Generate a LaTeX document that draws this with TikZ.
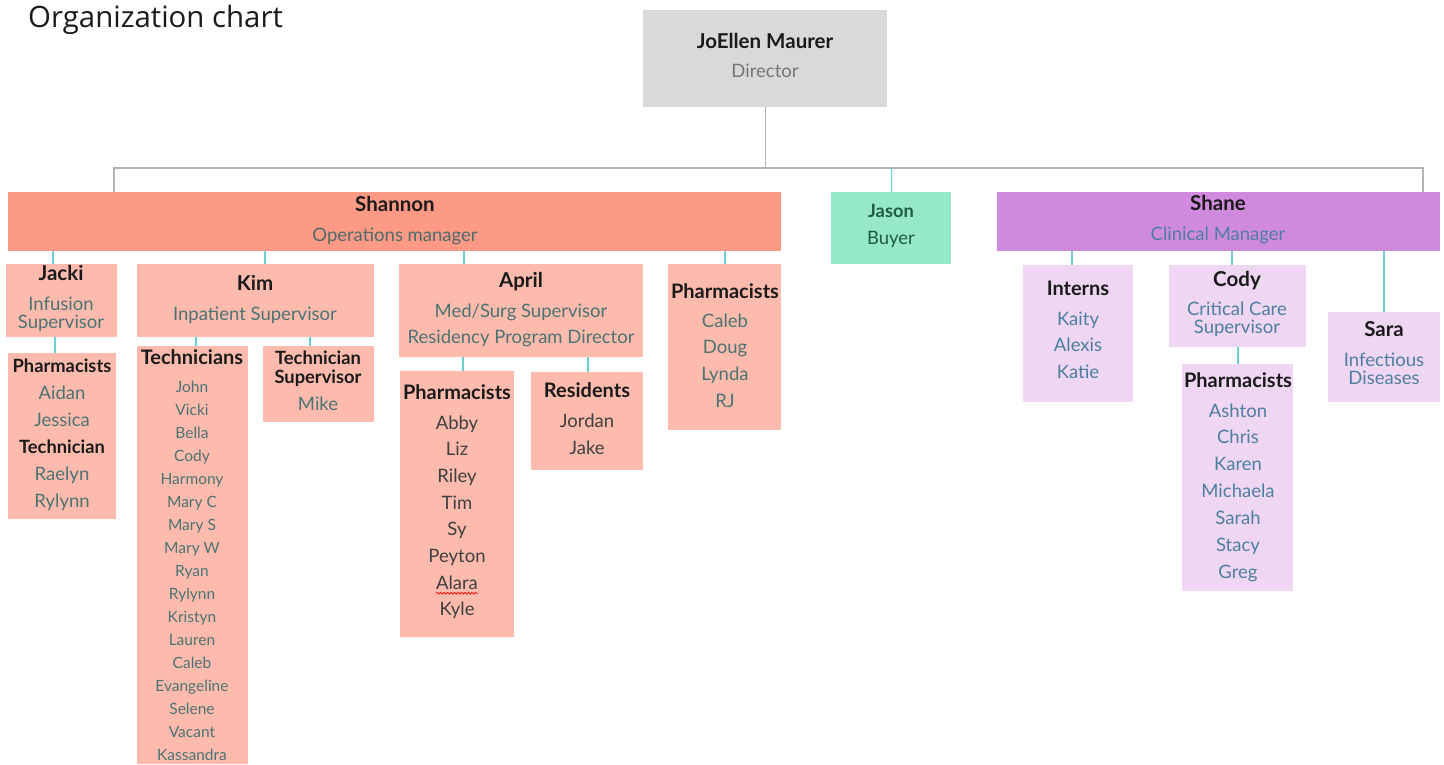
\documentclass[tikz,border=0pt]{standalone}
\usepackage{fontspec}
\setmainfont{Lato}
\newfontfamily\titlefont{Open Sans}
\usetikzlibrary{decorations.pathmorphing}
\definecolor{dirfill}{HTML}{D9D9D9}
\definecolor{salmon}{HTML}{FC9A85}
\definecolor{lsalmon}{HTML}{FDBBAE}
\definecolor{mint}{HTML}{95E9C8}
\definecolor{violet}{HTML}{CF8ADD}
\definecolor{lviolet}{HTML}{EFD6F3}
\definecolor{tealline}{HTML}{6CCFD6}
\definecolor{greyline}{HTML}{B4B4B4}
\definecolor{hdrc}{HTML}{1A1A1A}
\definecolor{greytxt}{HTML}{767676}
\definecolor{salmtxt}{HTML}{4C7372}
\definecolor{opstxt}{HTML}{506A6A}
\definecolor{darktxt}{HTML}{3F3F3F}
\definecolor{bluetxt}{HTML}{4E7FA0}
\definecolor{greentxt}{HTML}{1F5C43}
\tikzset{
  box/.style={draw=none, inner sep=0pt, anchor=north west},
  gl/.style={draw=greyline, line width=1.4pt},
  tl/.style={draw=tealline, line width=1.4pt},
  txt/.style={inner sep=0pt, anchor=mid, yshift=-4.5pt},
  hb/.style={txt, font=\fontsize{20.5}{24}\selectfont\bfseries, text=hdrc},
  hm/.style={txt, font=\fontsize{20}{24}\selectfont\bfseries, text=hdrc},
  hs/.style={txt, font=\fontsize{18.3}{21}\selectfont\bfseries, text=hdrc},
  sub/.style={txt, font=\fontsize{18.5}{22}\selectfont},
  nm/.style={txt, font=\fontsize{18.5}{22}\selectfont, text=salmtxt},
  sm/.style={txt, font=\fontsize{15.5}{18}\selectfont, text=salmtxt},
}
\newcommand\conn[3]{\coordinate (x#2) at (#3,0); \draw[tl] (#1.south -| x#2) -- (#2.north -| x#2);}
\newcommand\names[6]{\foreach \t [count=\i] in {#6} \node[#5] (#1-\i) at (#2, {#3+(\i-1)*#4}) {\t};}
\begin{document}
\begin{tikzpicture}[x=1pt,y=-1pt]
\useasboundingbox (0,0) rectangle (1444,764);
\node[inner sep=0pt, anchor=base west, font=\titlefont\fontsize{29.4}{33}\selectfont, text=hdrc] (title) at (28,27) {Organization chart};
% boxes
\node[box, fill=dirfill, minimum width=244pt, minimum height=97pt] (dir) at (643,10) {};
\node[box, fill=salmon, minimum width=773pt, minimum height=59pt] (shannon) at (8,192) {};
\node[box, fill=mint, minimum width=120pt, minimum height=72pt] (jason) at (831,192) {};
\node[box, fill=violet, minimum width=443pt, minimum height=59pt] (shane) at (997,192) {};
\node[box, fill=lsalmon, minimum width=111pt, minimum height=73pt] (jacki) at (6,264) {};
\node[box, fill=lsalmon, minimum width=108pt, minimum height=166pt] (jackil) at (8,353) {};
\node[box, fill=lsalmon, minimum width=237pt, minimum height=73pt] (kim) at (137,264) {};
\node[box, fill=lsalmon, minimum width=111pt, minimum height=418pt] (tech) at (137,346) {};
\node[box, fill=lsalmon, minimum width=111pt, minimum height=76pt] (techsup) at (263,346) {};
\node[box, fill=lsalmon, minimum width=244pt, minimum height=93pt] (april) at (399,264) {};
\node[box, fill=lsalmon, minimum width=114pt, minimum height=266pt] (apph) at (400,371) {};
\node[box, fill=lsalmon, minimum width=112pt, minimum height=98pt] (res) at (531,372) {};
\node[box, fill=lsalmon, minimum width=113pt, minimum height=166pt] (ph) at (668,264) {};
\node[box, fill=lviolet, minimum width=110pt, minimum height=137pt] (interns) at (1023,265) {};
\node[box, fill=lviolet, minimum width=137pt, minimum height=82pt] (cody) at (1169,265) {};
\node[box, fill=lviolet, minimum width=111pt, minimum height=227pt] (codyph) at (1182,364) {};
\node[box, fill=lviolet, minimum width=112pt, minimum height=90pt] (sara) at (1328,312) {};
% connectors
\coordinate (busL) at (114,168);
\coordinate (busR) at (1423,168);
\draw[gl] (dir.south) -- (dir.south |- busL);
\draw[gl] (shannon.north -| busL) -- (busL) -- (busR) -- (shane.north -| busR);
\draw[tl] (jason.north) -- (jason.north |- busL);
\conn{shannon}{jacki}{53}
\conn{jacki}{jackil}{55}
\conn{shannon}{kim}{265}
\conn{kim}{tech}{196}
\conn{kim}{techsup}{310}
\conn{shannon}{april}{464}
\conn{april}{apph}{463}
\conn{april}{res}{588}
\conn{shannon}{ph}{725}
\conn{shane}{interns}{1072}
\conn{shane}{cody}{1232}
\conn{cody}{codyph}{1238}
\conn{shane}{sara}{1384}
% texts
\node[hb] (dir-h) at (765,41) {JoEllen Maurer};
\node[sub, text=greytxt] (dir-s) at (765,70) {Director};
\node[hb] (shannon-h) at (395,204) {Shannon};
\node[sub, text=opstxt] (shannon-s) at (395,234) {Operations manager};
\node[hs, text=greentxt] (jason-h) at (891,210) {Jason};
\node[sub, text=greentxt] (jason-s) at (891,237) {Buyer};
\node[hb] (shane-h) at (1218,203) {Shane};
\node[sub, text=bluetxt] (shane-s) at (1218,233) {Clinical Manager};
\node[hb] (jacki-h) at (61,273) {Jacki};
\node[nm] (jacki-s1) at (61,303) {Infusion};
\node[nm] (jacki-s2) at (61,321) {Supervisor};
\node[hs] (jackil-h1) at (62,365) {Pharmacists};
\node[nm] (jackil-1) at (62,392) {Aidan};
\node[nm] (jackil-2) at (62,419) {Jessica};
\node[hs] (jackil-h2) at (62,446) {Technician};
\node[nm] (jackil-3) at (62,473) {Raelyn};
\node[nm] (jackil-4) at (62,500) {Rylynn};
\node[hb] (kim-h) at (255,283) {Kim};
\node[nm] (kim-s) at (255,313) {Inpatient Supervisor};
\node[hm] (tech-h) at (192,357) {Technicians};
\names{tech}{192}{385}{23}{sm}{John,Vicki,Bella,Cody,Harmony,Mary C,Mary S,Mary W,Ryan,Rylynn,Kristyn,Lauren,Caleb,Evangeline,Selene,Vacant,Kassandra}
\node[hs] (techsup-h1) at (318,357) {Technician};
\node[hs] (techsup-h2) at (318,376) {Supervisor};
\node[nm] (techsup-1) at (318,403) {Mike};
\node[hb] (april-h) at (521,280) {April};
\node[nm] (april-s1) at (521,310) {Med/Surg Supervisor};
\node[nm] (april-s2) at (521,336) {Residency Program Director};
\node[hm] (apph-h) at (457,392) {Pharmacists};
\names{apph}{457}{422}{26.7}{nm, text=darktxt}{Abby,Liz,Riley,Tim,Sy,Peyton,Alara,Kyle}
\draw[red, line width=0.7pt, decorate, decoration={snake, amplitude=0.9pt, segment length=3.5pt}] ([yshift=-4pt]apph-7.base west) -- ([yshift=-4pt]apph-7.base east);
\node[hm] (res-h) at (587,390) {Residents};
\names{res}{587}{420}{27}{nm, text=darktxt}{Jordan,Jake}
\node[hm] (ph-h) at (725,291) {Pharmacists};
\names{ph}{725}{320}{26.7}{nm}{Caleb,Doug,Lynda,RJ}
\node[hm] (interns-h) at (1078,288) {Interns};
\names{interns}{1078}{318}{26.5}{nm, text=bluetxt}{Kaity,Alexis,Katie}
\node[hb] (cody-h) at (1237,279) {Cody};
\node[nm, text=bluetxt] (cody-s1) at (1237,308) {Critical Care};
\node[nm, text=bluetxt] (cody-s2) at (1237,326) {Supervisor};
\node[hm] (codyph-h) at (1238,380) {Pharmacists};
\names{codyph}{1238}{410}{26.83}{nm, text=bluetxt}{Ashton,Chris,Karen,Michaela,Sarah,Stacy,Greg}
\node[hb] (sara-h) at (1384,329) {Sara};
\node[nm, text=bluetxt] (sara-s1) at (1384,359) {Infectious};
\node[nm, text=bluetxt] (sara-s2) at (1384,377) {Diseases};
\end{tikzpicture}
\end{document}
